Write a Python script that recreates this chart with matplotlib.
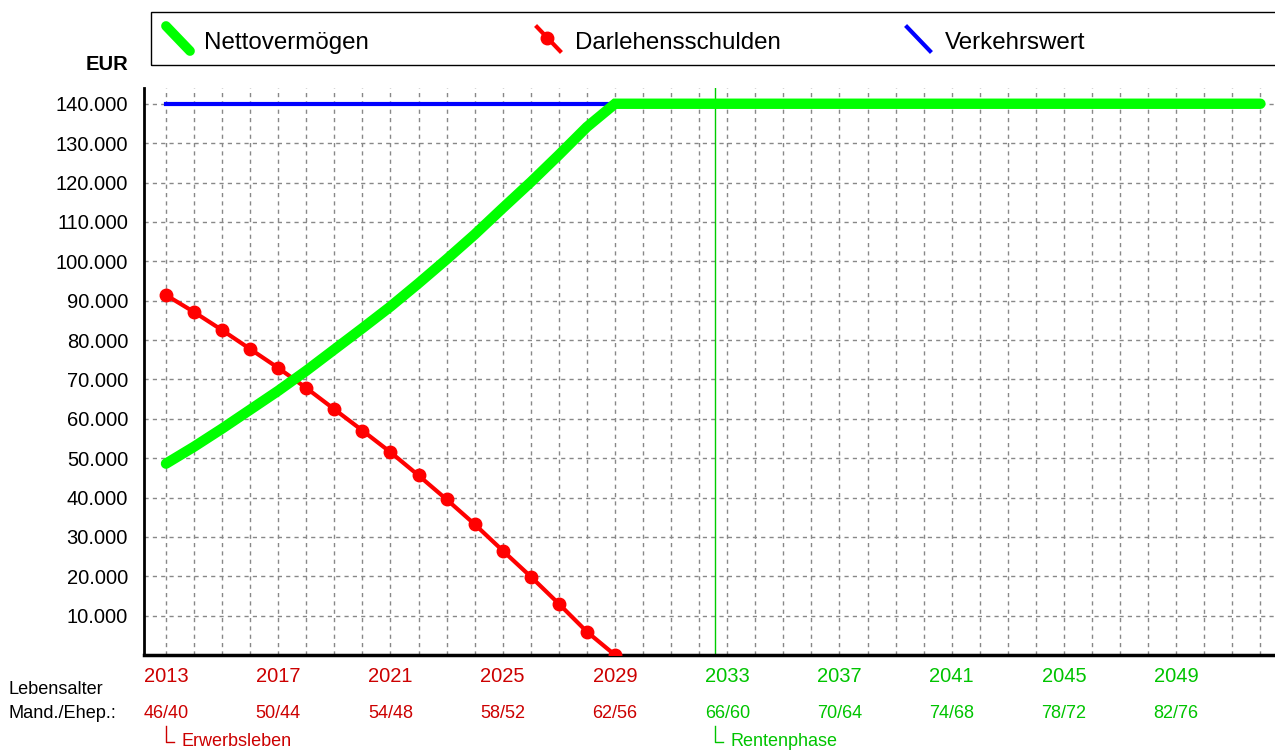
import matplotlib
matplotlib.use('Agg')
import matplotlib.pyplot as plt
import matplotlib.transforms as mtransforms
from matplotlib.lines import Line2D
from matplotlib.patches import Rectangle
from matplotlib.ticker import FuncFormatter, MultipleLocator

plt.rcParams['font.family'] = ['Liberation Sans', 'DejaVu Sans']

# ---- data ----
debt_years = [2013, 2014, 2015, 2016, 2017, 2018, 2019, 2020, 2021, 2022,
              2023, 2024, 2025, 2026, 2027, 2028, 2029]
debt = [91400, 87100, 82500, 77700, 72900, 67800, 62400, 57000, 51500, 45600,
        39500, 33200, 26500, 19900, 13000, 5900, 0]
market_years = debt_years
market_value = [140000] * 17
net_years = list(range(2013, 2053))
net_worth = [48600, 52900, 57500, 62300, 67100, 72200, 77600, 83000, 88500, 94400,
             100500, 106800, 113500, 120100, 127000, 134100, 140000,
             140000, 140000, 140000, 140000, 140000, 140000, 140000, 140000, 140000,
             140000, 140000, 140000, 140000, 140000, 140000, 140000, 140000, 140000,
             140000, 140000, 140000, 140000, 140000]
label_years = [2013, 2017, 2021, 2025, 2029, 2033, 2037, 2041, 2045, 2049]
age_labels = ["46/40", "50/44", "54/48", "58/52", "62/56",
              "66/60", "70/64", "74/68", "78/72", "82/76"]
phase_boundary = 2032.55
phase_names = ["Erwerbsleben", "Rentenphase"]
phase_starts = [2013, phase_boundary]
series_names = ["Nettovermögen", "Darlehensschulden", "Verkehrswert"]

RED_TXT = '#cc0000'
GRN_TXT = '#00c400'

W, H = 1275, 751
fig = plt.figure(figsize=(W / 100, H / 100), dpi=100)
ax = fig.add_axes([144 / W, 1 - 655 / H, (W - 144) / W, (655 - 88) / H])

ax.set_xlim(2012.216, 2052.52)
ax.set_ylim(0, 144000)

ax.plot(market_years, market_value, color='#0000ff', lw=3, zorder=3)
ax.plot(debt_years, debt, color='#ff0000', lw=3, marker='o', ms=9, zorder=4)
ax.plot(net_years, net_worth, color='#00ff00', lw=7.5, solid_capstyle='round',
        solid_joinstyle='miter', zorder=5)
ax.axvline(phase_boundary, color='#00cc00', lw=1, zorder=2)

# grid
ax.xaxis.set_major_locator(MultipleLocator(1))
ax.yaxis.set_major_locator(MultipleLocator(10000))
ax.grid(True, color='#888888', ls=(0, (3, 3)), lw=1)
ax.set_axisbelow(True)
ax.tick_params(axis='x', length=0, labelbottom=False)
ax.tick_params(axis='y', length=0, labelsize=14.5, pad=11.5)
ax.yaxis.set_major_formatter(FuncFormatter(
    lambda v, p: '' if v <= 0 or v > 140000 else f"{int(v):,}".replace(',', '.')))

for s in ['top', 'right']:
    ax.spines[s].set_visible(False)
ax.spines['left'].set_linewidth(2)
ax.spines['bottom'].set_linewidth(2.5)

# EUR label
fig.text(128 / W, 1 - 64 / H, 'EUR', ha='right', va='center',
         fontsize=14.5, fontweight='bold')


def fx(x):
    return x / W


def fy(y):
    return 1 - y / H


# x labels
bt = mtransforms.blended_transform_factory(ax.transData, fig.transFigure)
for yr, age in zip(label_years, age_labels):
    c = RED_TXT if yr < phase_boundary else GRN_TXT
    ax.text(yr, fy(677), str(yr), transform=bt, ha='center', va='center',
            fontsize=14.5, color=c)
    ax.text(yr, fy(713), age, transform=bt, ha='center', va='center',
            fontsize=13.1, color=c)

fig.text(fx(8), fy(690), 'Lebensalter', ha='left', va='center', fontsize=13.1)
fig.text(fx(8), fy(713), 'Mand./Ehep.:', ha='left', va='center', fontsize=13.1)

# phase markers (corner + text)
yrs_per_px = (2052.52 - 2012.216) / (W - 144)
for name, x0, c in zip(phase_names, phase_starts, [RED_TXT, GRN_TXT]):
    ax.add_line(Line2D([x0, x0, x0 + 8 * yrs_per_px], [fy(726), fy(742), fy(742)],
                       transform=bt, color=c, lw=1, clip_on=False))
    ax.annotate(name, xy=(x0, fy(741)), xycoords=bt, xytext=(11.2, 0),
                textcoords='offset points', ha='left', va='center',
                fontsize=13, color=c, annotation_clip=False)

# legend (manual)
fig.patches.append(Rectangle((fx(151), fy(65)), fx(1300) - fx(151), fy(12) - fy(65),
                             transform=fig.transFigure, fill=False, ec='black', lw=1))
fig.lines.append(Line2D([fx(166), fx(190)], [fy(26), fy(51)], transform=fig.transFigure,
                        color='#00ff00', lw=7, solid_capstyle='round'))
fig.text(fx(204), fy(43), series_names[0], ha='left', va='center', fontsize=17.4)
fig.lines.append(Line2D([fx(537), fx(560)], [fy(27), fy(51)], transform=fig.transFigure,
                        color='#ff0000', lw=3))
fig.lines.append(Line2D([fx(547)], [fy(38)], transform=fig.transFigure,
                        color='#ff0000', marker='o', ms=9))
fig.text(fx(575), fy(43), series_names[1], ha='left', va='center', fontsize=17.4)
fig.lines.append(Line2D([fx(907), fx(930)], [fy(27), fy(51)], transform=fig.transFigure,
                        color='#0000ff', lw=3))
fig.text(fx(945), fy(43), series_names[2], ha='left', va='center', fontsize=17.4)

fig.savefig('out.png', dpi=100)
